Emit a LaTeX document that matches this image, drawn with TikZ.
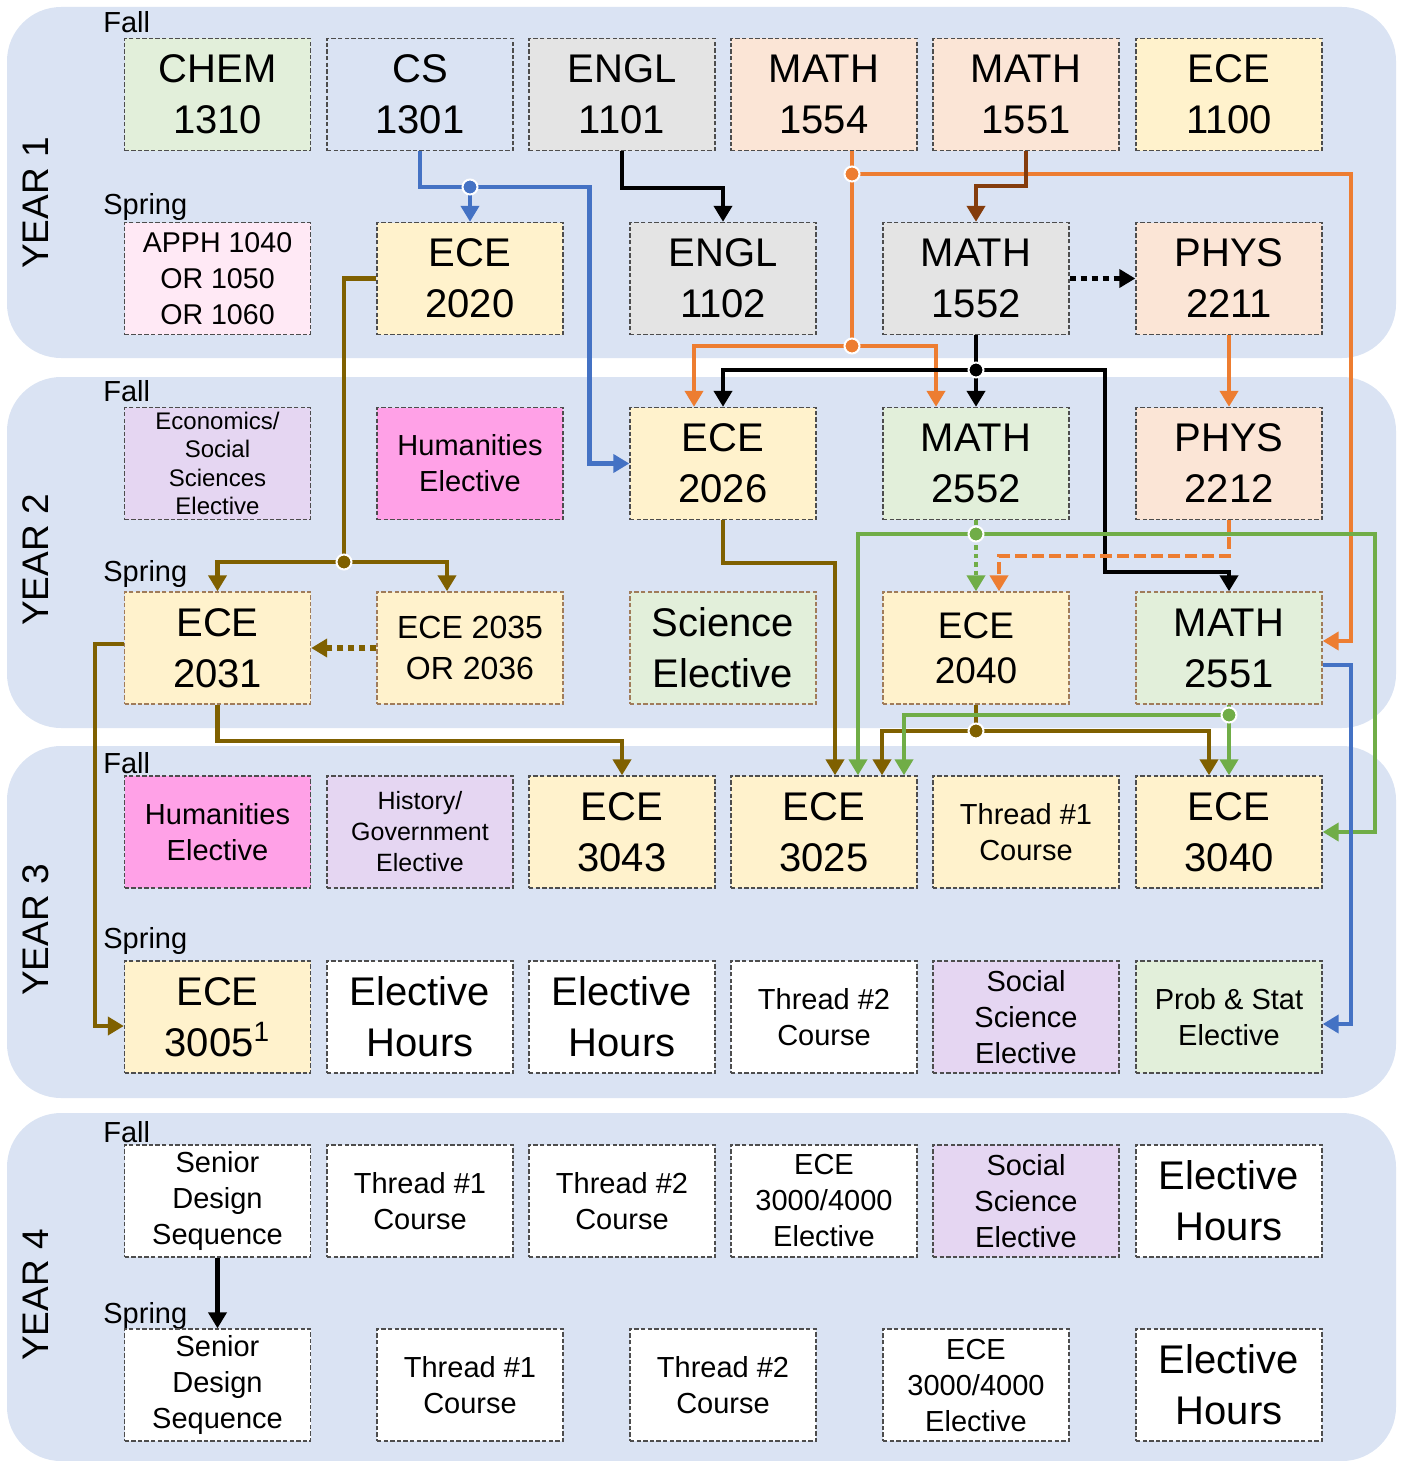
\documentclass[tikz,border=0pt]{standalone}
\usepackage{fontspec}
\setmainfont{Liberation Sans}
\usetikzlibrary{arrows.meta}

\definecolor{band}{HTML}{DAE3F3}
\definecolor{boxline}{HTML}{4D4D4D}
\definecolor{warmline}{HTML}{A07C5A}
\definecolor{fgreen}{HTML}{E2EFDA}
\definecolor{fgray}{HTML}{E4E4E4}
\definecolor{fpeach}{HTML}{FBE5D6}
\definecolor{fyellow}{HTML}{FFF2CC}
\definecolor{fpink}{HTML}{FFE9F5}
\definecolor{fmag}{HTML}{FFA1E7}
\definecolor{flav}{HTML}{E5D6F2}
\definecolor{cblue}{HTML}{4472C4}
\definecolor{corng}{HTML}{ED7D31}
\definecolor{cbrown}{HTML}{843C0C}
\definecolor{colive}{HTML}{7F6000}
\definecolor{cgreen}{HTML}{70AD47}

\begin{document}
\begin{tikzpicture}[x=0.5pt, y=-0.5pt,
    course/.style={rectangle, draw=boxline, line width=0.7pt, dash pattern=on 2.2pt off 1.1pt,
        minimum width=93pt, minimum height=56pt, inner sep=0pt, align=center,
        font=\fontsize{20}{25.5}\selectfont},
    warm/.style={draw=warmline},
    midtxt/.style={font=\fontsize{14.5}{18}\selectfont},
    term/.style={anchor=base west, inner sep=0pt, font=\fontsize{14.5}{17}\selectfont},
    yearlbl/.style={rotate=90, font=\fontsize{18.5}{20}\selectfont},
    wire/.style={line width=2.2pt},
    link/.style={wire, -{Triangle[length=8pt,width=9pt]}},
    dots/.style={dash pattern=on 3pt off 2.5pt},
    jdot/.style={circle, fill=#1, draw=white, line width=1pt, inner sep=0pt, minimum size=7.5pt}]

    \useasboundingbox (0,0) rectangle (1403,1461);

    % Year bands
    \fill[band, rounded corners=27pt] (7,7) rectangle (1396,358);
    \fill[band, rounded corners=27pt] (7,377) rectangle (1396,728);
    \fill[band, rounded corners=27pt] (7,746) rectangle (1396,1098);
    \fill[band, rounded corners=27pt] (7,1113) rectangle (1396,1461);

    \node[yearlbl] (year1) at (36,203) {YEAR 1};
    \node[yearlbl] (year2) at (36,560) {YEAR 2};
    \node[yearlbl] (year3) at (36,930) {YEAR 3};
    \node[yearlbl] (year4) at (36,1295) {YEAR 4};

    \node[term] (fall1) at (103,33) {Fall};
    \node[term] (spr1) at (103,214) {Spring};
    \node[term] (fall2) at (103,401) {Fall};
    \node[term] (spr2) at (103,581) {Spring};
    \node[term] (fall3) at (103,773) {Fall};
    \node[term] (spr3) at (103,948) {Spring};
    \node[term] (fall4) at (103,1142) {Fall};
    \node[term] (spr4) at (103,1323) {Spring};

    % Year 1 fall
    \node[course, fill=fgreen] (chem) at (217.5,94.5) {CHEM\\1310};
    \node[course] (cs) at (420,94.5) {CS\\1301};
    \node[course, fill=fgray] (engla) at (622,94.5) {ENGL\\1101};
    \node[course, fill=fpeach] (matha) at (824,94.5) {MATH\\1554};
    \node[course, fill=fpeach] (mathb) at (1026,94.5) {MATH\\1551};
    \node[course, fill=fyellow] (ecea) at (1229,94.5) {ECE\\1100};

    % Year 1 spring
    \node[course, fill=fpink, font=\fontsize{14.3}{18}\selectfont] (apph) at (217.5,278.5) {APPH 1040\\OR 1050\\OR 1060};
    \node[course, fill=fyellow] (eceb) at (470,278.5) {ECE\\2020};
    \node[course, fill=fgray] (englb) at (723,278.5) {ENGL\\1102};
    \node[course, fill=fgray] (mathc) at (976,278.5) {MATH\\1552};
    \node[course, fill=fpeach] (physa) at (1229,278.5) {PHYS\\2211};

    % Year 2 fall
    \node[course, fill=flav, font=\fontsize{12}{14.25}\selectfont] (econ) at (217.5,463.5) {Economics/\\Social\\Sciences\\Elective};
    \node[course, fill=fmag, midtxt] (huma) at (470,463.5) {Humanities\\Elective};
    \node[course, fill=fyellow] (ecec) at (723,463.5) {ECE\\2026};
    \node[course, fill=fgreen] (mathd) at (976,463.5) {MATH\\2552};
    \node[course, fill=fpeach] (physb) at (1229,463.5) {PHYS\\2212};

    % Year 2 spring
    \node[course, warm, fill=fyellow] (eced) at (217.5,648) {ECE\\2031};
    \node[course, warm, fill=fyellow, font=\fontsize{16}{20.5}\selectfont] (ecee) at (470,648) {ECE 2035\\OR 2036};
    \node[course, warm, fill=fgreen] (scien) at (723,648) {Science\\Elective};
    \node[course, warm, fill=fyellow, font=\fontsize{18.5}{22.5}\selectfont] (ecef) at (976,648) {ECE\\2040};
    \node[course, warm, fill=fgreen] (mathe) at (1229,648) {MATH\\2551};

    % Year 3 fall
    \node[course, fill=fmag, midtxt] (humb) at (217.5,832) {Humanities\\Elective};
    \node[course, fill=flav, font=\fontsize{12.5}{15.5}\selectfont] (hist) at (420,832) {History/\\Government\\Elective};
    \node[course, fill=fyellow] (eceg) at (622,832) {ECE\\3043};
    \node[course, fill=fyellow] (eceh) at (824,832) {ECE\\3025};
    \node[course, fill=fyellow, midtxt] (threada) at (1026,832) {Thread \#1\\Course};
    \node[course, fill=fyellow] (ecei) at (1229,832) {ECE\\3040};

    % Year 3 spring
    \node[course, fill=fyellow] (ecej) at (217.5,1017) {ECE\\3005\textsuperscript{1}};
    \node[course, fill=white] (elecha) at (420,1017) {Elective\\Hours};
    \node[course, fill=white] (electhb) at (622,1017) {Elective\\Hours};
    \node[course, fill=white, midtxt] (threadb) at (824,1017) {Thread \#2\\Course};
    \node[course, fill=flav, midtxt] (socia) at (1026,1017) {Social\\Science\\Elective};
    \node[course, fill=fgreen, midtxt] (prob) at (1229,1017) {Prob \& Stat\\Elective};

    % Year 4 fall
    \node[course, fill=white, midtxt] (senia) at (217.5,1201) {Senior\\Design\\Sequence};
    \node[course, fill=white, midtxt] (threadc) at (420,1201) {Thread \#1\\Course};
    \node[course, fill=white, midtxt] (threadd) at (622,1201) {Thread \#2\\Course};
    \node[course, fill=white, midtxt] (ecek) at (824,1201) {ECE\\3000/4000\\Elective};
    \node[course, fill=flav, midtxt] (socib) at (1026,1201) {Social\\Science\\Elective};
    \node[course, fill=white] (electhc) at (1229,1201) {Elective\\Hours};

    % Year 4 spring
    \node[course, fill=white, midtxt] (senib) at (217.5,1385) {Senior\\Design\\Sequence};
    \node[course, fill=white, midtxt] (threade) at (470,1385) {Thread \#1\\Course};
    \node[course, fill=white, midtxt] (threadf) at (723,1385) {Thread \#2\\Course};
    \node[course, fill=white, midtxt] (ecel) at (976,1385) {ECE\\3000/4000\\Elective};
    \node[course, fill=white] (electhd) at (1229,1385) {Elective\\Hours};

    % Junctions
    \coordinate (jcs) at (470,187);
    \coordinate (jma) at (852,174);
    \coordinate (jmb) at (852,346);
    \coordinate (jmc) at (976,370);
    \coordinate (jeb) at (344,562);
    \coordinate (jmd) at (976,534);
    \coordinate (jef) at (976,731);
    \coordinate (jme) at (1229,715);

    % Prerequisites
    \draw[link, cblue] (cs.south) |- (jcs) -| ([xshift=-20pt]ecec.west) -- (ecec.west);
    \draw[link, cblue] (jcs) -- (eceb.north);
    \draw[link] (engla.south) -- ++(0,37) -| (englb.north);
    \draw[wire, corng] ([xshift=14pt]matha.south) -- (jmb);
    \draw[link, corng] (jma) -| ([xshift=14pt,yshift=3.5pt]mathe.east) -- ([yshift=3.5pt]mathe.east);
    \draw[link, corng] (jmb) -| ([xshift=-14.5pt]ecec.north);
    \draw[link, corng] (jmb) -| ([xshift=-20pt]mathd.north);
    \draw[link, cbrown] (mathb.south) -- ++(0,35) -| (mathc.north);
    \draw[link, dots, line width=2.6pt] (mathc.east) -- (physa.west);
    \draw[link] (mathc.south) -- (mathd.north);
    \draw[link] (jmc) -| (ecec.north);
    \draw[link] (jmc) -- (1105,370) -- (1105,572) -| (mathe.north);
    \draw[link, corng] (physa.south) -- (physb.north);
    \draw[wire, colive] (eceb.west) -| (jeb);
    \draw[link, colive] (jeb) -| (eced.north);
    \draw[link, colive] (jeb) -| ([xshift=-11.5pt]ecee.north);
    \draw[link, colive, dots, line width=2.6pt] (ecee.west) -- (eced.east);
    \draw[link, colive] ([yshift=2pt]eced.west) -- ++(-29,0) |- ([yshift=-4.5pt]ecej.west);
    \draw[link, colive] (eced.south) -- ++(0,36) -| (eceg.north);
    \draw[link, colive] (ecec.south) -- ++(0,43) -| ([xshift=5.5pt]eceh.north);
    \draw[link, cgreen, dash pattern=on 2.2pt off 2pt] (mathd.south) -- (ecef.north);
    \draw[link, cgreen] (jmd) -| ([xshift=17pt]eceh.north);
    \draw[link, cgreen] (jmd) -| ([xshift=26pt]ecei.east) -- (ecei.east);
    \draw[link, corng, dash pattern=on 6pt off 2.5pt] (physb.south) -- ++(0,36) -| ([xshift=11.5pt]ecef.north);
    \draw[wire, colive] (ecef.south) -- (jef);
    \draw[link, colive] (jef) -| ([xshift=29pt]eceh.north);
    \draw[link, colive] (jef) -| ([xshift=-10pt]ecei.north);
    \draw[link, cgreen] (mathe.south) -- (ecei.north);
    \draw[link, cgreen] (jme) -| ([xshift=40pt]eceh.north);
    \draw[link, cblue] ([yshift=-8.5pt]mathe.east) -- ++(28,0) |- ([yshift=-3.5pt]prob.east);
    \draw[link] (senia.south) -- (senib.north);

    % Junction dots
    \node[jdot=cblue] at (jcs) {};
    \node[jdot=corng] at (jma) {};
    \node[jdot=corng] at (jmb) {};
    \node[jdot=black] at (jmc) {};
    \node[jdot=colive] at (jeb) {};
    \node[jdot=cgreen] at (jmd) {};
    \node[jdot=colive] at (jef) {};
    \node[jdot=cgreen] at (jme) {};
\end{tikzpicture}
\end{document}
